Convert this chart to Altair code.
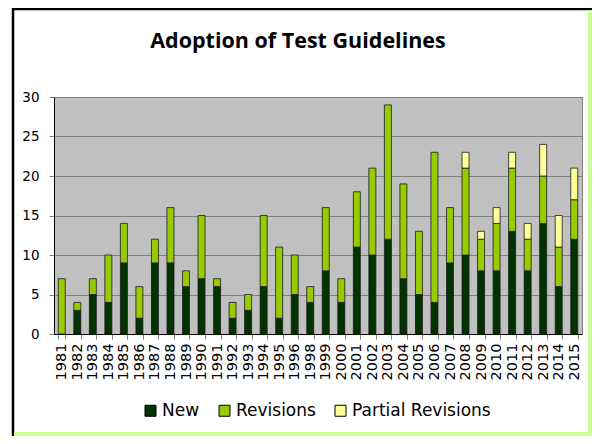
import altair as alt
import pandas as pd

years = ["1981","1982","1983","1984","1985","1986","1987","1988","1989","1990",
         "1991","1992","1993","1994","1995","1996","1998","1999","2000","2001",
         "2002","2003","2004","2005","2006","2007","2008","2009","2010","2011",
         "2012","2013","2014","2015"]
new = [0,3,5,4,9,2,9,9,6,7,6,2,3,6,2,5,4,8,4,11,10,12,7,5,4,9,10,8,8,13,8,14,6,12]
revisions = [7,1,2,6,5,4,3,7,2,8,1,2,2,9,9,5,2,8,3,7,11,17,12,8,19,7,11,4,6,8,4,6,5,5]
partial = [0,0,0,0,0,0,0,0,0,0,0,0,0,0,0,0,0,0,0,0,0,0,0,0,0,0,2,1,2,2,2,4,4,4]

series = ["New", "Revisions", "Partial Revisions"]
colors = ["#003300", "#99cc00", "#ffff99"]

rows = []
for i, y in enumerate(years):
    for k, (name, vals) in enumerate(zip(series, [new, revisions, partial])):
        if vals[i] > 0:
            rows.append({"year": y, "series": name, "value": vals[i], "ord": k})
df = pd.DataFrame(rows)

bars = alt.Chart(df).mark_bar(stroke="#1a1a1a", strokeWidth=0.8).encode(
    x=alt.X("year:N", sort=years, title=None,
            scale=alt.Scale(paddingInner=0.55, paddingOuter=0.275),
            axis=alt.Axis(labelAngle=-90, labelFont="DejaVu Sans", labelFontSize=14.5,
                          labelColor="#000000", tickBand="extent", tickSize=5,
                          tickColor="#808080", domainColor="#000000", labelPadding=4,
                          grid=False, labelAlign="right", labelBaseline="middle")),
    y=alt.Y("value:Q", stack="zero", title=None,
            scale=alt.Scale(domain=[0, 30]),
            axis=alt.Axis(values=[0, 5, 10, 15, 20, 25, 30], labelFont="DejaVu Sans",
                          labelFontSize=13.5, labelColor="#000000", tickSize=5,
                          tickColor="#808080", domainColor="#000000", labelPadding=10,
                          gridColor="#808080", gridWidth=1)),
    color=alt.Color("series:N", scale=alt.Scale(domain=series, range=colors),
                    legend=alt.Legend(title=None, orient="none", legendX=88, legendY=305,
                                      direction="horizontal", symbolType="square",
                                      symbolSize=121, symbolStrokeColor="#000000",
                                      symbolStrokeWidth=1, labelFont="DejaVu Sans",
                                      labelFontSize=17, labelColor="#000000",
                                      labelOffset=3, columnPadding=16)),
    order=alt.Order("ord:Q"),
)

one = pd.DataFrame({"a": [0]})
title = alt.Chart(one).mark_text(text="Adoption of Test Guidelines", font="Open Sans",
                                 fontWeight="bold", fontSize=21.5, align="center",
                                 baseline="alphabetic", color="#000000").encode(
    x=alt.value(244), y=alt.value(-49))

left = alt.Chart(one).mark_rule(color="#000000", strokeWidth=2.5).encode(
    x=alt.value(-41), y=alt.value(-89), y2=alt.value(339))
top = alt.Chart(one).mark_rule(color="#000000", strokeWidth=2.5).encode(
    y=alt.value(-88), x=alt.value(-42), x2=alt.value(538))
right = alt.Chart(one).mark_rule(color="#ccff99", strokeWidth=4).encode(
    x=alt.value(536), y=alt.value(-87), y2=alt.value(339))
bottom = alt.Chart(one).mark_rule(color="#ccff99", strokeWidth=4).encode(
    y=alt.value(337), x=alt.value(-40), x2=alt.value(538))

chart = alt.layer(bars, title, left, top, right, bottom).properties(
    width=528, height=237,
    padding={"left": 46, "top": 89, "right": 10, "bottom": 102},
    autosize=alt.AutoSizeParams(type="none"),
).configure(background="#ffffff").configure_view(fill="#c0c0c0", stroke="#808080")

chart.save("out.html", embed_options={"renderer": "svg", "actions": False})
